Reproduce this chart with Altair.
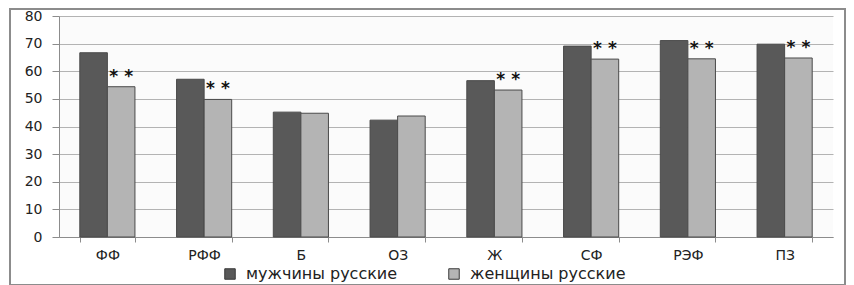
import altair as alt
import pandas as pd

categories = ["ФФ", "РФФ", "Б", "ОЗ", "Ж", "СФ", "РЭФ", "ПЗ"]
series = ["мужчины русские", "женщины русские"]
men = [66.7, 57.1, 45.2, 42.3, 56.6, 69.1, 71.1, 69.8]
women = [54.4, 49.8, 44.8, 43.8, 53.2, 64.4, 64.5, 64.8]
significant = [True, True, False, False, True, True, True, True]
marker = "* *"
y_ticks = [0, 10, 20, 30, 40, 50, 60, 70, 80]
colors = ["#595959", "#b4b4b4"]

rows = []
for i, c in enumerate(categories):
    rows.append({"cat": c, "series": series[0], "value": men[i], "sig": False, "mark": ""})
    rows.append({"cat": c, "series": series[1], "value": women[i], "sig": significant[i],
                 "mark": marker if significant[i] else ""})
df = pd.DataFrame(rows)

FONT = "DejaVu Sans"
W, H = 774, 221

x_enc = alt.X("cat:N", sort=categories, title=None,
              scale=alt.Scale(paddingInner=0.43, paddingOuter=0.215),
              axis=alt.Axis(labelAngle=0, labelFont=FONT, labelFontSize=14, labelColor="#222",
                            labelPadding=6, domainColor="#8c8c8c", tickColor="#8c8c8c",
                            tickSize=5, tickBand="extent", grid=False))
xoff_enc = alt.XOffset("series:N", sort=series,
                       scale=alt.Scale(domain=series, paddingInner=0, paddingOuter=0))
y_enc = alt.Y("value:Q", title=None,
              scale=alt.Scale(domain=[0, 80], nice=False),
              axis=alt.Axis(values=y_ticks, labelFont=FONT, labelFontSize=14, labelColor="#222",
                            labelPadding=10, domainColor="#8c8c8c", tickColor="#8c8c8c",
                            tickSize=7, grid=True, gridColor="#b3b3b3", gridWidth=1,
                            labelOverlap=False))

bars = alt.Chart(df).mark_bar(stroke="#4a4a4a", strokeWidth=1).encode(
    x=x_enc,
    xOffset=xoff_enc,
    y=y_enc,
    color=alt.Color("series:N", sort=series,
                    scale=alt.Scale(domain=series, range=colors),
                    legend=alt.Legend(title=None, orient="none", direction="horizontal",
                                      legendX=163, legendY=250,
                                      symbolType="square", symbolSize=110,
                                      symbolStrokeColor="#3a3a3a", symbolStrokeWidth=1,
                                      labelFont=FONT, labelFontSize=16, labelColor="#222",
                                      columnPadding=48, labelOffset=8)),
)

stars = alt.Chart(df).transform_filter("datum.sig").mark_text(
    font=FONT, fontSize=17, fontWeight="bold", baseline="middle", dy=-10, color="#111"
).encode(
    x=x_enc,
    xOffset=xoff_enc,
    y=y_enc,
    text="mark:N",
)

frame = alt.Chart(df).mark_rect(fill=None, stroke="#8c8c8c", strokeWidth=2).encode(
    x=alt.value(-49), x2=alt.value(W + 12), y=alt.value(-7), y2=alt.value(H + 48)
)

chart = alt.layer(frame, bars, stars).properties(
    width=W, height=H,
    autosize=alt.AutoSizeParams(type="none"),
    padding={"left": 51, "top": 8, "right": 13, "bottom": 50},
    background="white",
).configure_view(strokeWidth=0, fill="#fbfbfb")

chart.save("out.html", embed_options={"renderer": "svg", "actions": False})
